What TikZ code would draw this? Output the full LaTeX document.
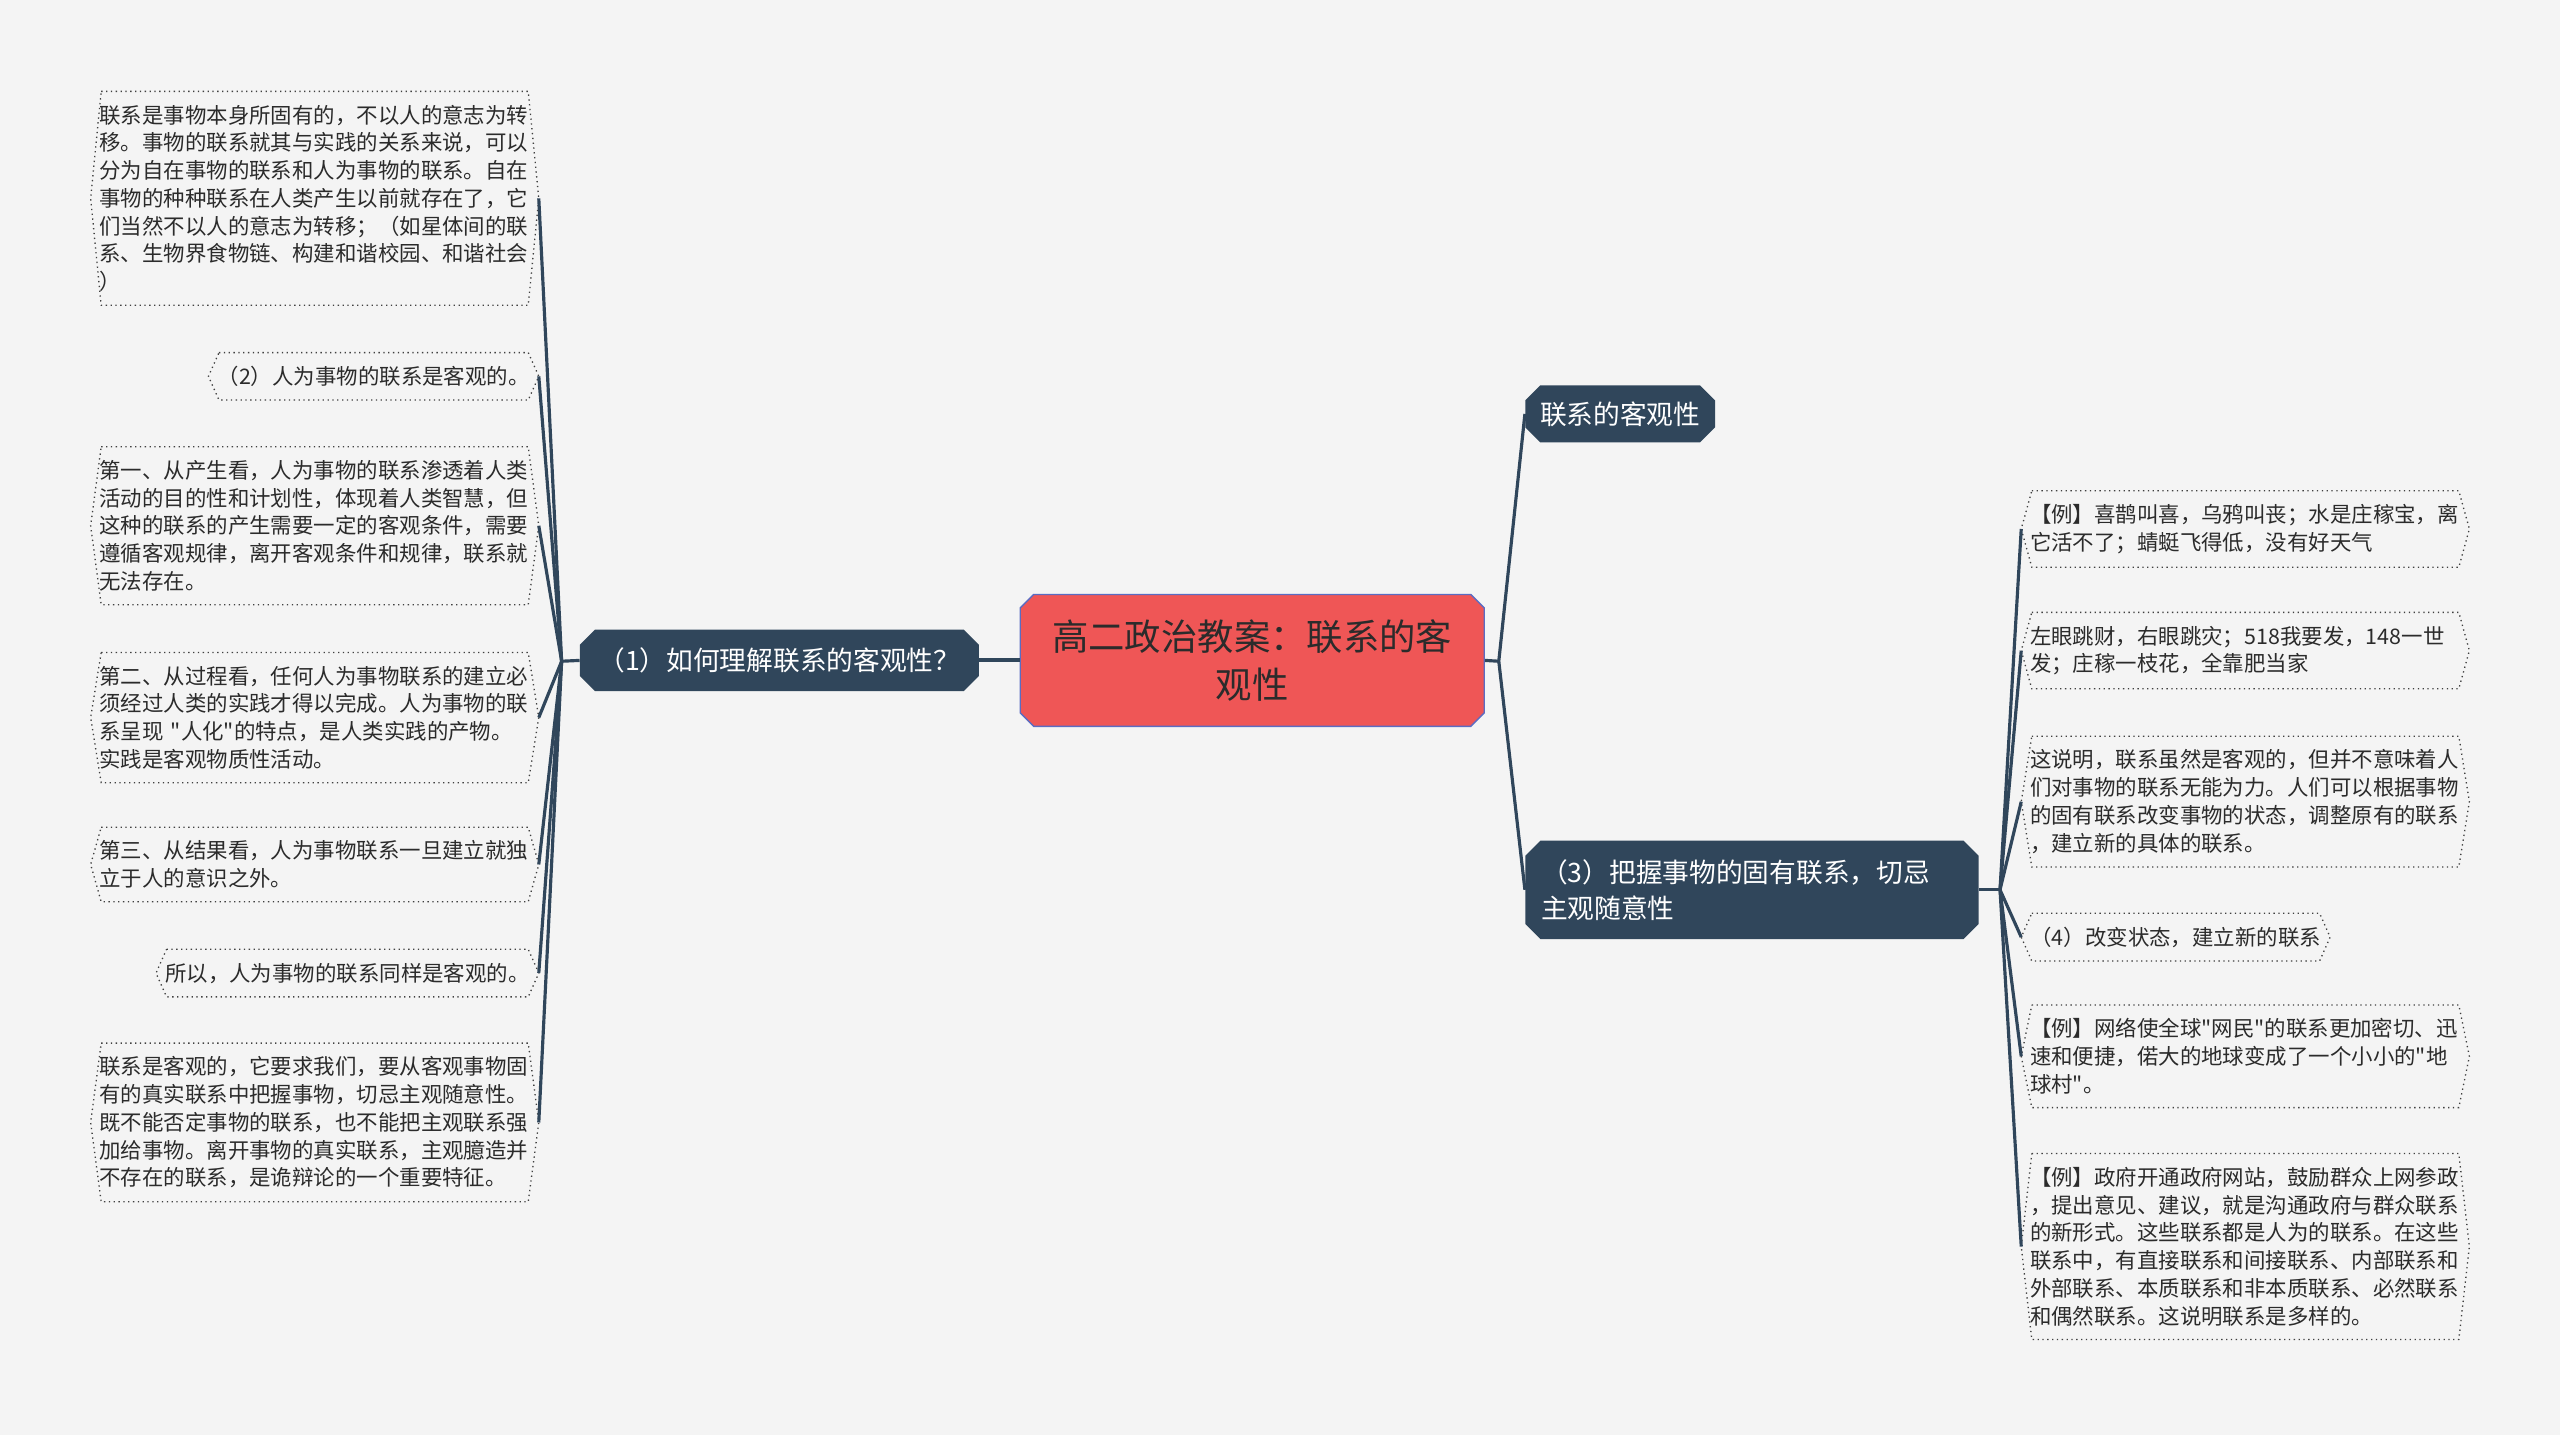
\documentclass[tikz,border=0pt]{standalone}
\usepackage{fontspec}
\setmainfont{Noto Sans CJK SC}[Ligatures=TeXOff]
\usetikzlibrary{positioning,shapes.misc}

\definecolor{paper}{HTML}{F4F4F4}
\definecolor{navy}{HTML}{30465B}
\definecolor{rootred}{HTML}{EF5656}
\definecolor{rootedge}{HTML}{5B6CC2}
\definecolor{ink}{HTML}{2B2B2B}

\begin{document}
\begin{tikzpicture}[
    x=0.32653mm, y=-0.32653mm,
    root/.style={chamfered rectangle, chamfered rectangle xsep=4pt,
                 fill=rootred, draw=rootedge, line width=0.8pt, text=ink,
                 align=center, font=\fontsize{20.7pt}{27pt}\selectfont,
                 minimum width=264pt, minimum height=75pt, inner sep=0pt},
    branch/.style={chamfered rectangle, chamfered rectangle xsep=5pt,
                   fill=navy, text=white, inner sep=0pt,
                   font=\fontsize{15.2pt}{20.5pt}\selectfont},
    leaf/.style={text=ink, align=left, font=\fontsize{12.2pt}{15.8pt}\selectfont,
                 inner xsep=4.8pt, inner ysep=7.5pt, text width=245pt},
    tag/.style={text=ink, font=\fontsize{12.2pt}{15.8pt}\selectfont,
                inner xsep=5pt, inner ysep=7.5pt},
    frame/.style={draw=black!75, dotted, line width=0.75pt},
    link/.style={draw=navy, line width=1.8pt}
  ]
  \fill[paper] (0,0) rectangle (1568,879);
  \useasboundingbox (0,0) rectangle (1568,879);

  % centre and main branches
  \node[root] (root) at (767,404.5) {高二政治教案：联系的客\\观性};
  \node[branch, left=23pt of root, minimum width=227pt, minimum height=35pt] (b1)
    {（1）如何理解联系的客观性？};
  \node[branch, anchor=west, minimum width=108pt, minimum height=32.5pt] (b2)
    at (934,253.5) {联系的客观性};
  \node[branch, anchor=west, minimum width=258pt, minimum height=56pt,
        align=left, text width=240pt] (b3)
    at (934,545) {（3）把握事物的固有联系，切忌\\主观随意性};

  % left leaves
  \node[leaf, anchor=east] (l1) at (330,121.5)
    {联系是事物本身所固有的，不以人的意志为转\\
     移。事物的联系就其与实践的关系来说，可以\\
     分为自在事物的联系和人为事物的联系。自在\\
     事物的种种联系在人类产生以前就存在了，它\\
     们当然不以人的意志为转移；（如星体间的联\\
     系、生物界食物链、构建和谐校园、和谐社会\\
     ）};
  \node[tag, anchor=east] (l2) at (330,230.5) {（2）人为事物的联系是客观的。};
  \node[leaf, anchor=east] (l3) at (330,322)
    {第一、从产生看，人为事物的联系渗透着人类\\
     活动的目的性和计划性，体现着人类智慧，但\\
     这种的联系的产生需要一定的客观条件，需要\\
     遵循客观规律，离开客观条件和规律，联系就\\
     无法存在。};
  \node[leaf, anchor=east] (l4) at (330,439.5)
    {第二、从过程看，任何人为事物联系的建立必\\
     须经过人类的实践才得以完成。人为事物的联\\
     系呈现~"人化"的特点，是人类实践的产物。\\
     实践是客观物质性活动。};
  \node[leaf, anchor=east] (l5) at (330,529.5)
    {第三、从结果看，人为事物联系一旦建立就独\\
     立于人的意识之外。};
  \node[tag, anchor=east] (l6) at (330,596) {所以，人为事物的联系同样是客观的。};
  \node[leaf, anchor=east] (l7) at (330,687.5)
    {联系是客观的，它要求我们，要从客观事物固\\
     有的真实联系中把握事物，切忌主观随意性。\\
     既不能否定事物的联系，也不能把主观联系强\\
     加给事物。离开事物的真实联系，主观臆造并\\
     不存在的联系，是诡辩论的一个重要特征。};

  % right leaves
  \node[leaf, anchor=west] (r1) at (1238,324)
    {【例】喜鹊叫喜，乌鸦叫丧；水是庄稼宝，离\\
     它活不了；蜻蜓飞得低，没有好天气};
  \node[leaf, anchor=west] (r2) at (1238,398.5)
    {左眼跳财，右眼跳灾；518我要发，148一世\\
     发；庄稼一枝花，全靠肥当家};
  \node[leaf, anchor=west] (r3) at (1238,491)
    {这说明，联系虽然是客观的，但并不意味着人\\
     们对事物的联系无能为力。人们可以根据事物\\
     的固有联系改变事物的状态，调整原有的联系\\
     ，建立新的具体的联系。};
  \node[tag, anchor=west] (r4) at (1238,574) {（4）改变状态，建立新的联系};
  \node[leaf, anchor=west] (r5) at (1238,647)
    {【例】网络使全球"网民"的联系更加密切、迅\\
     速和便捷，偌大的地球变成了一个小小的"地\\
     球村"。};
  \node[leaf, anchor=west] (r6) at (1238,763.5)
    {【例】政府开通政府网站，鼓励群众上网参政\\
     ，提出意见、建议，就是沟通政府与群众联系\\
     的新形式。这些联系都是人为的联系。在这些\\
     联系中，有直接联系和间接联系、内部联系和\\
     外部联系、本质联系和非本质联系、必然联系\\
     和偶然联系。这说明联系是多样的。};

  % dotted frames
  \foreach \n in {l1,l2,l3,l4,l5,l6,l7,r1,r2,r3,r4,r5,r6}
    \draw[frame] ([xshift=6pt]\n.north west) -- ([xshift=-6pt]\n.north east)
      -- (\n.east) -- ([xshift=-6pt]\n.south east) -- ([xshift=6pt]\n.south west)
      -- (\n.west) -- cycle;

  % connectors
  \coordinate (lf) at (344,405);
  \coordinate (cf) at (918,405);
  \coordinate (rf) at (1225,545);
  \draw[link, line width=2.2pt] (b1.east) -- (root.west);
  \draw[link] (b1.west) -- (lf);
  \foreach \n in {l1,l2,l3,l4,l5,l6,l7}
    \draw[link] (lf) -- (\n.east);
  \draw[link] (root.east) -- (cf);
  \draw[link] (cf) -- (b2.west);
  \draw[link] (cf) -- (b3.west);
  \draw[link] (b3.east) -- (rf);
  \foreach \n in {r1,r2,r3,r4,r5,r6}
    \draw[link] (rf) -- (\n.west);
\end{tikzpicture}
\end{document}
